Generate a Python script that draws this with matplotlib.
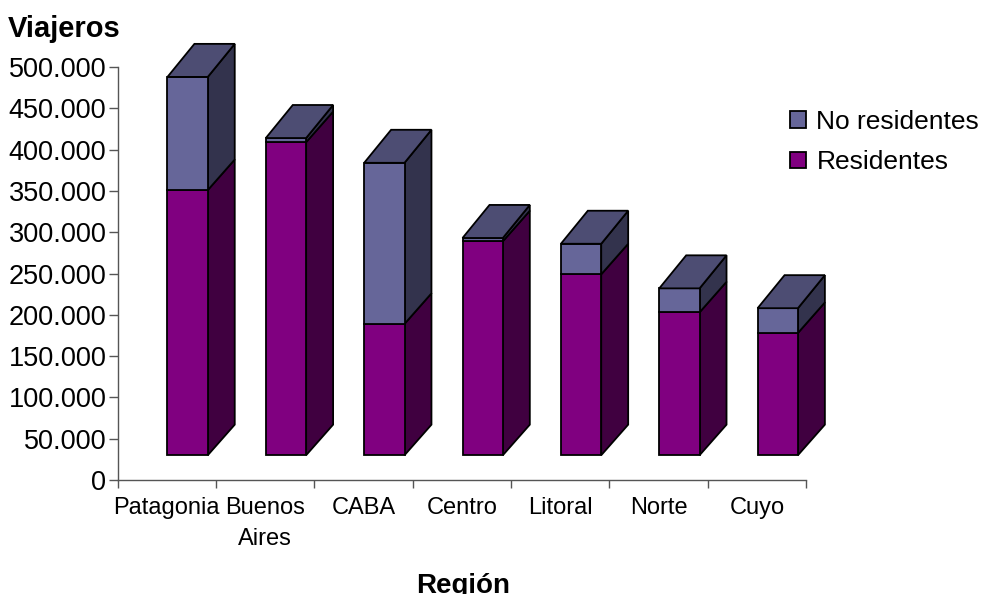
import matplotlib.pyplot as plt
from matplotlib.patches import Patch, Polygon

plt.rcParams['font.family'] = ['Liberation Sans', 'DejaVu Sans']

regiones = ['Patagonia', 'Buenos\nAires', 'CABA', 'Centro', 'Litoral', 'Norte', 'Cuyo']
# heights as read on the axis, the bars sit on a floor above zero
residentes = [351000, 409000, 189000, 289000, 249000, 203000, 178000]
no_residentes = [137000, 5000, 195000, 4000, 37000, 29000, 30000]
y_ticks = [0, 50000, 100000, 150000, 200000, 250000, 300000, 350000, 400000, 450000, 500000]

colores_res = {'front': '#800080', 'side': '#400040'}
colores_no = {'front': '#666699', 'side': '#33334d', 'top': '#4d4d73'}

piso = 30000
ancho = 0.41
offset = 0.213
dx = 0.274
dy = 40000
dy_base = 37000

fig = plt.figure(figsize=(9.83, 5.94), dpi=100)
ax = fig.add_axes([117.5 / 983, 1 - 480 / 594, 688.5 / 983, 413 / 594])
ax.set_xlim(0, 7)
ax.set_ylim(0, 500000)


def cara(puntos, color):
    ax.add_patch(Polygon(puntos, closed=True, facecolor=color, edgecolor='black',
                         linewidth=1.3, joinstyle='miter', clip_on=False))


# one box per segment, front and side, then the lid on the top one
for i in range(len(regiones)):
    x0 = i + 0.5 - ancho / 2 + offset
    x1 = x0 + ancho
    tope_res = residentes[i]
    tope = residentes[i] + no_residentes[i]

    cara([(x1, piso), (x1 + dx, piso + dy_base), (x1 + dx, tope_res + dy_base), (x1, tope_res)],
         colores_res['side'])
    cara([(x0, piso), (x1, piso), (x1, tope_res), (x0, tope_res)], colores_res['front'])
    cara([(x1, tope_res), (x1 + dx, tope_res + dy_base), (x1 + dx, tope + dy), (x1, tope)],
         colores_no['side'])
    cara([(x0, tope_res), (x1, tope_res), (x1, tope), (x0, tope)], colores_no['front'])
    cara([(x0, tope), (x1, tope), (x1 + dx, tope + dy), (x0 + dx, tope + dy)], colores_no['top'])

for lado in ['top', 'right']:
    ax.spines[lado].set_visible(False)
for lado in ['left', 'bottom']:
    ax.spines[lado].set_color('#555555')
    ax.spines[lado].set_linewidth(1.0)

ax.set_yticks(y_ticks)
ax.set_yticklabels([f'{v:,}'.replace(',', '.') for v in y_ticks], fontsize=19.5)
ax.tick_params(axis='y', length=6.5, width=1.0, color='#555555', pad=1.5)

ax.set_xticks(range(8))
ax.set_xticklabels([])
ax.tick_params(axis='x', which='major', length=6, width=1.0, color='#555555')
ax.set_xticks([i + 0.5 for i in range(7)], minor=True)
ax.set_xticklabels(regiones, minor=True, fontsize=17, linespacing=1.5)
ax.tick_params(axis='x', which='minor', length=0, pad=12.5)

fig.text(8 / 983, 1 - 29 / 594, 'Viajeros', fontsize=21, fontweight='bold', va='center', ha='left')
# the reference also loses the tail of the g at the bottom edge
fig.text(463 / 983, 1 - 593 / 594, 'Región', fontsize=20, fontweight='bold', va='baseline', ha='center')

handles = [Patch(facecolor=colores_no['front'], edgecolor='black', linewidth=1.3),
           Patch(facecolor=colores_res['front'], edgecolor='black', linewidth=1.3)]
fig.legend(handles, ['No residentes', 'Residentes'], loc='upper left',
           bbox_to_anchor=(790 / 983, 1 - 110 / 594), borderaxespad=0, borderpad=0,
           frameon=False, fontsize=19, handlelength=0.6, handleheight=0.6,
           handletextpad=0.4, labelspacing=0.62)

fig.savefig('out.png', dpi=100)
plt.close(fig)
